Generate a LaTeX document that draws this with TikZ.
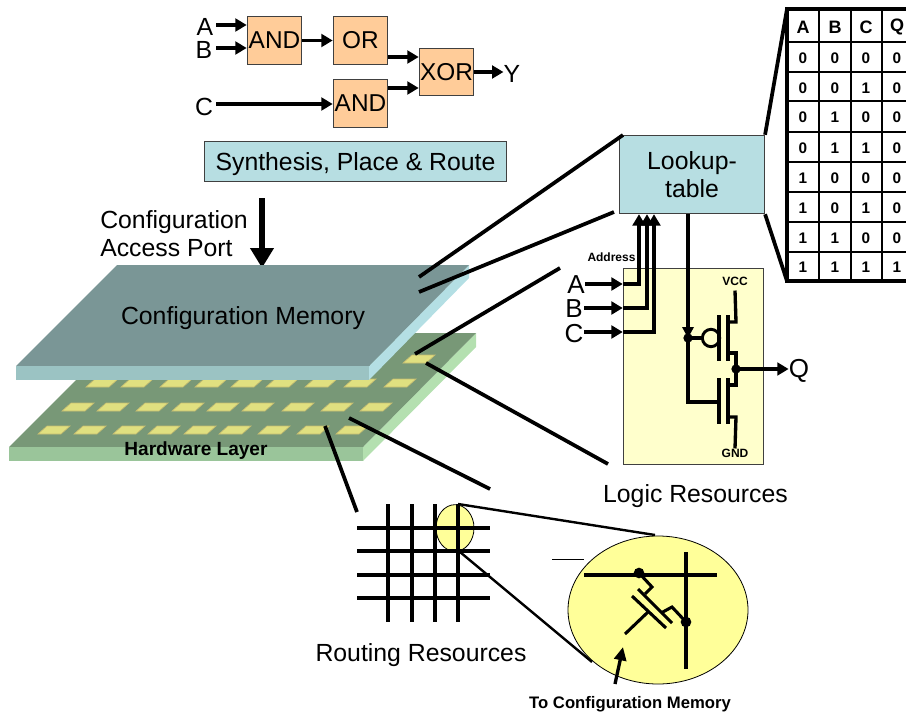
\documentclass[tikz,border=0pt]{standalone}
\usepackage{fontspec}
\setmainfont{Liberation Sans}
\usetikzlibrary{arrows.meta,calc,shapes.geometric}
\definecolor{gatefill}{HTML}{FFCC99}
\definecolor{bluefill}{HTML}{B7DEE2}
\definecolor{paleyellow}{HTML}{FFFFCC}
\definecolor{zoomyellow}{HTML}{FFFF99}
\definecolor{memtop}{HTML}{7A9696}
\definecolor{memfront}{HTML}{9BC3C3}
\definecolor{memside}{HTML}{B4DFE4}
\definecolor{hwtop}{HTML}{789877}
\definecolor{hwfront}{HTML}{9AC59A}
\definecolor{hwside}{HTML}{B4E0B0}
\definecolor{padfill}{HTML}{E0E080}
\definecolor{padedge}{HTML}{C4BC70}
\definecolor{boxedge}{HTML}{404040}
\tikzset{
  big/.style={font=\fontsize{18.6}{21.5}\selectfont,inner sep=0pt,yshift=-1.5pt},
  large/.style={font=\fontsize{19.5}{22}\selectfont,inner sep=0pt,yshift=-0.5pt},
  boldlabel/.style={font=\fontsize{12.5}{14}\selectfont\bfseries,inner sep=0pt},
  tiny label/.style={font=\fontsize{9}{10}\selectfont\bfseries,inner sep=0pt},
  cell/.style={font=\fontsize{11.5}{12}\selectfont\bfseries,inner sep=0pt},
  head/.style={font=\fontsize{13.5}{14}\selectfont\bfseries,inner sep=0pt},
  gatebox/.style={draw=boxedge,line width=0.7pt,fill=gatefill,minimum width=41pt,minimum height=35.5pt,inner sep=0pt,font=\fontsize{18.3}{21}\selectfont},
  bluebox/.style={draw=boxedge,line width=0.6pt,fill=bluefill,inner sep=0pt,font=\fontsize{18.6}{21.5}\selectfont,align=center},
  sig/.style={line width=2.6pt,-{Triangle[length=8.5pt,width=9.5pt]}},
  wire/.style={line width=2.5pt},
  callout/.style={line width=2.8pt},
  zoomline/.style={line width=1.8pt},
  bar/.style={line width=2.6pt},
  dot/.style={circle,fill=black,inner sep=0pt,minimum size=7pt},
  pad/.style={draw=padedge,line width=0.5pt,fill=padfill},
}
\begin{document}
\begin{tikzpicture}[x=0.75pt,y=-0.75pt]
\useasboundingbox (0,0) rectangle (906,713);
\clip (0,0) rectangle (906,713);

% ---- gates
\node[gatebox] (and1) at (274.5,40.5) {AND};
\node[gatebox] (or1) at (360.5,40.5) {OR};
\node[gatebox] (xor1) at (446.5,72) {XOR};
\node[gatebox] (and2) at (360.5,103.5) {AND};
\node[big] (la) at (205,25) {A};
\node[big] (lb) at (204,48) {B};
\node[big] (lc) at (204,105) {C};
\node[big] (ly) at (512,72) {Y};
\coordinate (ay) at (216,25);
\coordinate (by) at (216,48);
\coordinate (cy) at (216,104);
\coordinate (oy) at (0,57);
\coordinate (ny) at (0,88);
\draw[sig] (ay) -- (ay -| and1.west);
\draw[sig] (by) -- (by -| and1.west);
\draw[sig] (cy) -- (cy -| and2.west);
\draw[sig] (and1.east) -- (or1.west);
\draw[sig] (or1.east |- oy) -- (xor1.west |- oy);
\draw[sig] (and2.east |- ny) -- (xor1.west |- ny);
\draw[sig] (xor1.east) -- (xor1.east -| ly.west);

\node[bluebox,minimum width=227pt,minimum height=30.5pt,text height=13.5pt,text depth=0.5pt] (spr) at (355.5,161.5) {Synthesis, Place \& Route};

% ---- configuration access port
\node[big,align=left,anchor=west] (cap) at (100,231.5) {Configuration\\Access Port};
\coordinate (capt) at (262,198);
\coordinate (caph) at (262,268);
\draw[line width=4.2pt,-{Triangle[length=15pt,width=17pt]}] (capt) -- (caph);

% ---- hardware layer
\fill[hwside] (476,333) -- (476,347) -- (363,461) -- (363,447) -- cycle;
\fill[hwtop] (123,333) -- (476,333) -- (363,447) -- (9,447) -- cycle;
\fill[hwfront] (9,447) rectangle (363,461);
\foreach \py/\plist in {
  426/{38,74,113,148,184,219,258,297,336},
  403/{62,97,136,172,207,242,282,321,360},
  379/{86,121,160,195,231,266,305,344,384},
  355/{403}}{
  \foreach \px in \plist {
    \draw[pad] (\px,\py+8) -- (\px+9,\py) -- (\px+32,\py) -- (\px+23,\py+8) -- cycle;
  }
}
\node[boldlabel,font=\fontsize{14.3}{16}\selectfont\bfseries] (hw) at (196,451) {Hardware Layer};

% ---- configuration memory
\fill[memside] (469,265) -- (469,278) -- (369,380) -- (369,366) -- cycle;
\fill[memtop] (117,265) -- (469,265) -- (369,366) -- (16,366) -- cycle;
\fill[memfront] (16,366) rectangle (369,380);
\node[big] (cm) at (243,316.5) {Configuration Memory};

% ---- lookup table
\node[bluebox,minimum width=109pt,minimum height=59pt] (lut) at (692,174.5) {Lookup-\\table};

% ---- logic box
\node[draw=boxedge,line width=0.6pt,fill=paleyellow,minimum width=105.5pt,minimum height=147pt,inner sep=0pt] (logic) at (693.5,366) {};
\node[tiny label] (addr) at (611.5,257) {Address};
\node[tiny label] (vcc) at (735,281) {VCC};
\node[tiny label] (gnd) at (735,453) {GND};
\node[large] (ila) at (576,284) {A};
\node[large] (ilb) at (574,308) {B};
\node[large] (ilc) at (574,333) {C};
\node[large] (q) at (799,370) {Q};
\node[big] (lr) at (695.5,494) {Logic Resources};

\coordinate (ai) at (585,284);
\coordinate (bi) at (584,308);
\coordinate (ci) at (584,332);
\coordinate (ax) at (639,0);
\coordinate (bx) at (647,0);
\coordinate (cx) at (654,0);
\draw[sig] (ai) -- (ai -| logic.west);
\draw[sig] (bi) -- (bi -| logic.west);
\draw[sig] (ci) -- (ci -| logic.west);
\draw[sig] (ai -| logic.west) -- (ai -| ax) -- (ax |- lut.south);
\draw[sig] (bi -| logic.west) -- (bi -| bx) -- (bx |- lut.south);
\draw[sig] (ci -| logic.west) -- (ci -| cx) -- (cx |- lut.south);

% inverter
\coordinate (ox) at (688,0);
\node[dot] (indot) at (688,338) {};
\node[draw=black,line width=2.2pt,fill=paleyellow,circle,minimum size=13pt,inner sep=0pt] (bub) at (711,338) {};
\coordinate (ngate) at (718,402);
\draw[wire] (ox |- lut.south) -- (indot.center);
\fill (682,327) -- (694,327) -- (688,338) -- cycle;
\draw[wire] (indot.center) -- (ox |- ngate) -- (ngate);
\draw[wire] (indot.center) -- (bub.west);
\draw[bar] (719,315) -- (719,361);
\draw[bar] (728,315) -- (728,361);
\draw[bar] (719,378) -- (719,424);
\draw[bar] (728,378) -- (728,424);
\node[dot] (outdot) at (736,369) {};
\draw[wire] (vcc.south) ++(0,5) -- (736,322) -- (728,322);
\draw[wire] (728,353) -- (736,353) -- (736,385) -- (728,385);
\draw[wire] (728,417) -- (736,417) -- (gnd.north);
\draw[sig] (outdot.center) -- (outdot.center -| q.west);

% ---- truth table
\coordinate (tl) at (787,9);
\coordinate (bl) at (787,281);
\fill[white] (787,9) rectangle (906,281);
\foreach \gy in {42,72,101,132,162,192,222,252} \draw[line width=1.5pt] (787,\gy) -- (906,\gy);
\foreach \gx in {819,851,882} \draw[line width=1.5pt] (\gx,9) -- (\gx,281);
\draw[line width=3pt] (906,9) -- (tl) -- (bl) -- (906,281);
\draw[callout] (lut.north east) -- (tl);
\draw[callout] (lut.south east) -- (bl);
\foreach \hn/\hx/\hl in {1/803/A,2/835/B,3/866/C,4/897/Q} \node[head] (th\hn) at (\hx,27) {\hl};
\foreach \rn/\ry/\va/\vb/\vc/\vd in {1/58/0/0/0/0,2/88/0/0/1/0,3/117/0/1/0/0,4/148/0/1/1/0,5/178/1/0/0/0,6/208/1/0/1/0,7/238/1/1/0/0,8/267/1/1/1/1}{
  \node[cell] (t\rn a) at (803,\ry) {\va};
  \node[cell] (t\rn b) at (835,\ry) {\vb};
  \node[cell] (t\rn c) at (866,\ry) {\vc};
  \node[cell] (t\rn d) at (897,\ry) {\vd};
}

% ---- callouts
\coordinate (m1) at (419,277);
\coordinate (m2) at (419,292);
\coordinate (l1) at (415,354);
\coordinate (l2) at (426,363);
\coordinate (r1) at (325,426);
\coordinate (r2) at (349,418);
\coordinate (m1e) at (623,135);
\coordinate (m2e) at (614,212);
\coordinate (l1e) at (560,268);
\coordinate (l2e) at (608,464);
\coordinate (r1e) at (357,512);
\coordinate (r2e) at (490,489);
\draw[callout] (m1) -- (m1e);
\draw[callout] (m2) -- (m2e);
\draw[callout] (l1) -- (l1e);
\draw[callout] (l2) -- (l2e);
\draw[callout] (r1) -- (r1e);
\draw[callout] (r2) -- (r2e);

% ---- routing grid
\node[draw=black,line width=0.6pt,fill=zoomyellow,ellipse,minimum width=28.5pt,minimum height=35pt,inner sep=0pt] (small) at (455,528) {};
\foreach \gy in {528,551,575,598} \draw[line width=3pt] (357,\gy) -- (490,\gy);
\foreach \gx in {388,412,435,458} \draw[line width=3pt] (\gx,504) -- (\gx,622);
\node[big] (rr) at (421,653.5) {Routing Resources};

% ---- zoomed switch
\node[draw=black,line width=0.6pt,fill=zoomyellow,ellipse,minimum width=135pt,minimum height=111pt,inner sep=0pt] (zoom) at (658,610) {};
\coordinate (zt) at (655,535);
\coordinate (zb) at (592,662);
\coordinate (st) at (458,504);
\coordinate (sb) at (460,552);
\draw[zoomline] (st) -- (zt);
\draw[zoomline] (sb) -- (zb);
\coordinate (da) at (552,559);
\coordinate (db) at (584,559);
\draw[line width=0.5pt] (da) -- (db);
\draw[line width=3pt] (584,575) -- (717,575);
\draw[line width=3pt] (686,552) -- (686,669);
\node[dot,minimum size=8pt] (d1) at (639,573) {};
\node[dot,minimum size=8pt] (d2) at (686,622) {};
\draw[line width=2.3pt] (d1.center) -- (652,587) -- (645,594);
\draw[line width=2.3pt] (661,613) -- (672,607) -- (d2.center);
\draw[line width=2.3pt] (638,589) -- (672,623);
\draw[line width=2.3pt] (632,596) -- (666,628);
\draw[line width=2.3pt] (625,634) -- (648,612);
\node[boldlabel] (tcm) at (630,704) {To Configuration Memory};
\coordinate (ats) at (615,684);
\coordinate (ate) at (623,647);
\draw[line width=2.5pt,-{Triangle[length=10pt,width=9pt]}] (ats) -- (ate);
\end{tikzpicture}
\end{document}
